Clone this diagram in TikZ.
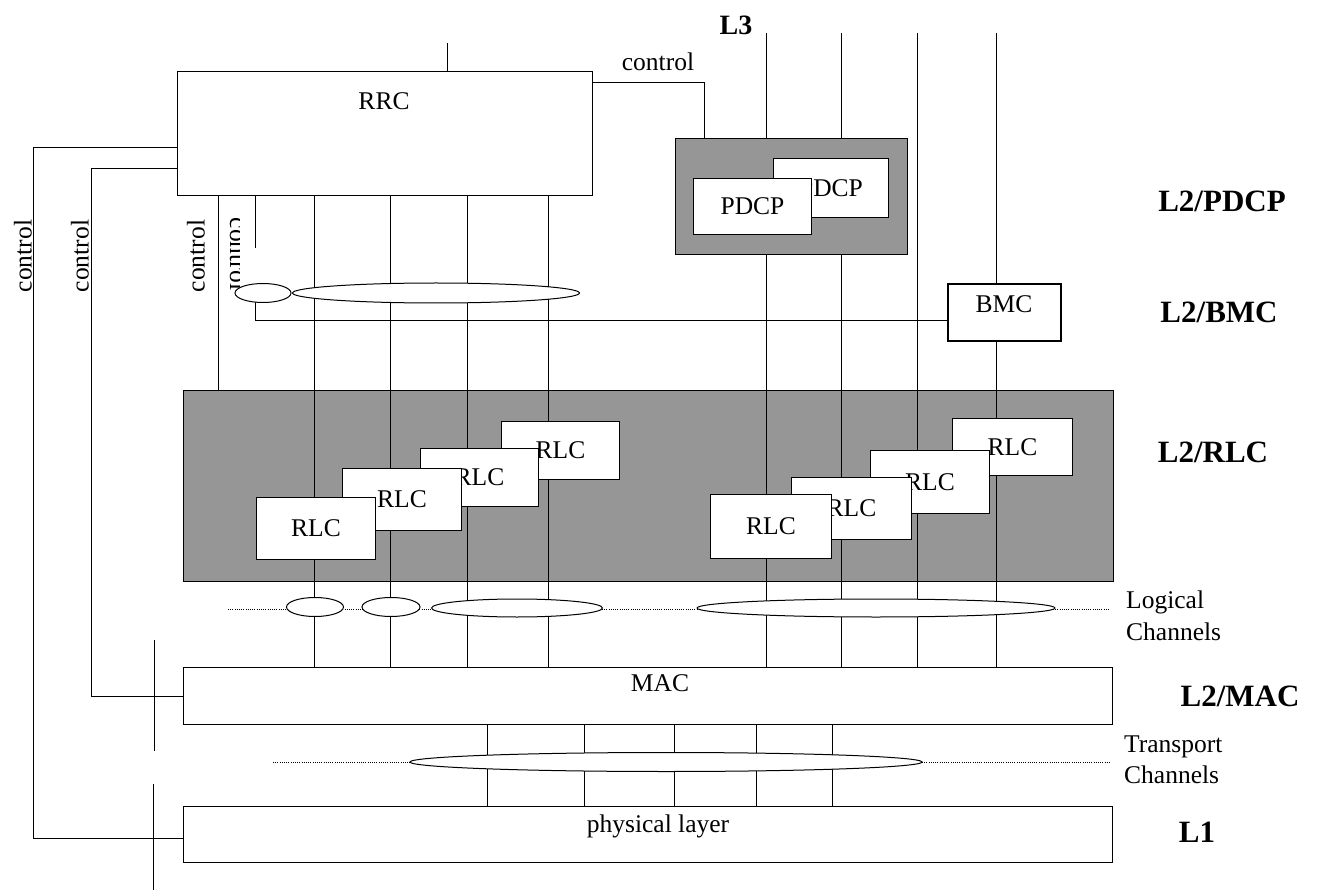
\documentclass[tikz,border=0pt]{standalone}
\usepackage{fontspec}
\setmainfont{Liberation Serif}
\usetikzlibrary{shapes.geometric}
\definecolor{grayfill}{RGB}{150,150,150}
\pgfdeclarelayer{bgzero}
\pgfdeclarelayer{bgone}
\pgfsetlayers{bgzero,bgone,main}
\begin{document}
\begin{tikzpicture}[x=1pt,y=-1pt,
  wire/.style={line width=0.9pt},
  dots/.style={line width=0.8pt, dash pattern=on 1pt off 1.2pt},
  box/.style={draw, line width=1pt, fill=white, inner sep=0pt, anchor=north west,
              font=\fontsize{25.5}{30}\selectfont},
  graybox/.style={draw, line width=1pt, fill=grayfill, inner sep=0pt, anchor=north west},
  txt/.style={font=\fontsize{25.5}{30}\selectfont, inner sep=0pt},
  lbl/.style={font=\fontsize{31}{36}\selectfont\bfseries, inner sep=0pt},
  chan/.style={draw, line width=1pt, fill=white, ellipse, inner sep=0pt},
]
\useasboundingbox (0,0) rectangle (1317,890);

% gray regions
\begin{pgfonlayer}{bgzero}
\node[graybox, minimum width=930pt, minimum height=191pt] (rlcarea) at (183,390) {};
\end{pgfonlayer}

% main boxes
\node[graybox, minimum width=232pt, minimum height=116pt] (pdcpbox) at (675,138) {};
\node[box, minimum width=115pt, minimum height=59pt] (pdcpb) at (773,158) {PDCP};
\node[box, minimum width=118pt, minimum height=56pt] (pdcpa) at (693,178) {PDCP};

\node[box, minimum width=415pt, minimum height=124pt] (rrc) at (177,71) {};
\node[txt] (rrct) at (384,101) {RRC};

\node[box, line width=2.2pt, minimum width=113pt, minimum height=57pt] (bmc) at (947,283) {};
\node[txt] (bmct) at (1004,304) {BMC};

% RLC entities, left group
\node[box, minimum width=118pt, minimum height=58pt] (rl4) at (501,421) {RLC};
\node[box, minimum width=118pt, minimum height=58pt] (rl3) at (420,448) {RLC};
\node[box, minimum width=119pt, minimum height=62pt] (rl2) at (342,468) {RLC};
\node[box, minimum width=119pt, minimum height=62pt] (rl1) at (256,497) {RLC};
% RLC entities, right group
\node[box, minimum width=120pt, minimum height=57pt] (rr4) at (952,418) {RLC};
\node[box, minimum width=119pt, minimum height=63pt] (rr3) at (870,450) {RLC};
\node[box, minimum width=120pt, minimum height=62pt] (rr2) at (791,477) {RLC};
\node[box, minimum width=121pt, minimum height=64pt] (rr1) at (710,494) {RLC};

\node[box, minimum width=929pt, minimum height=57pt] (mac) at (183,667) {};
\node[txt] (mact) at (660,683) {MAC};
\node[box, minimum width=929pt, minimum height=56pt] (phy) at (183,806) {};
\node[txt] (phyt) at (658,826) {physical layer};

% control labels
\node[txt, rotate=90] (c1) at (23,256) {control};
\node[txt, rotate=90] (c2) at (80,256) {control};
\node[txt, rotate=90] (c3) at (196,256) {control};
\begin{scope}
\clip (200,200) rectangle (239,300);
\node[txt, rotate=-90, anchor=base] (c4) at (230,254) {control};
\end{scope}
\node[txt] (ctop) at (658,62) {control};

% channel ellipses
\node[chan, minimum width=56pt, minimum height=19pt] (e0) at (263,293) {};
\node[chan, minimum width=287pt, minimum height=20pt] (e1) at (436,293) {};
\node[chan, minimum width=57pt, minimum height=19pt] (lc1) at (315,607) {};
\node[chan, minimum width=58pt, minimum height=19pt] (lc2) at (391,607) {};
\node[chan, minimum width=171pt, minimum height=18pt] (lc3) at (517,608) {};
\node[chan, minimum width=358pt, minimum height=18pt] (lc4) at (876,608) {};
\node[chan, minimum width=512pt, minimum height=19pt] (tc) at (666,762) {};

% layer labels
\node[lbl, font=\fontsize{28}{32}\selectfont\bfseries] (l3) at (736,25) {L3};
\node[lbl] (lpdcp) at (1222,201) {L2/PDCP};
\node[lbl] (lbmc) at (1219,312) {L2/BMC};
\node[lbl] (lrlc) at (1213,452) {L2/RLC};
\node[lbl] (lmac) at (1240,696) {L2/MAC};
\node[lbl] (lone) at (1197,832) {L1};
\node[txt, align=left, anchor=west, font=\fontsize{25.5}{32}\selectfont] (logch) at (1126,616) {Logical\\Channels};
\node[txt, align=left, anchor=west, font=\fontsize{25.5}{31}\selectfont] (trch) at (1124,760) {Transport\\Channels};

% named free ends
\coordinate (top0) at (447,43);
\coordinate (top1) at (766,33);
\coordinate (top2) at (841,33);
\coordinate (top3) at (917,33);
\coordinate (top4) at (996,33);
\coordinate (tickA) at (154,640);
\coordinate (tickB) at (154,751);
\coordinate (tickC) at (153,784);
\coordinate (tickD) at (153,890);
\coordinate (dotA) at (228,609);
\coordinate (dotB) at (1110,609);
\coordinate (dotC) at (273,762);
\coordinate (dotD) at (1110,762);

\begin{pgfonlayer}{bgone}
% lines from RRC through RLC to MAC
\foreach \x in {314,390,467,548}
  \draw[wire] (\x,0 |- rrc.south) -- (\x,0 |- mac.north);
% L3 lines
\draw[wire] (top0) -- (top0 |- rrc.north);
\foreach \t in {top1,top2} {
  \draw[wire] (\t) -- (\t |- pdcpbox.north);
  \draw[wire] (\t |- pdcpbox.south) -- (\t |- mac.north);
}
\draw[wire] (top3) -- (top3 |- mac.north);
\draw[wire] (top4) -- (top4 |- bmc.north);
\draw[wire] (top4 |- bmc.south) -- (top4 |- mac.north);
% transport channels
\foreach \x in {487,584,674,756,832}
  \draw[wire] (\x,0 |- mac.south) -- (\x,0 |- phy.north);
% control wires
\draw[wire] (rrc.east |- 0,82) -- (704,82) -- (704,0 |- pdcpbox.north);
\draw[wire] (rrc.west |- 0,147) -- (33,147) -- (33,838) -- (phy.west |- 0,838);
\draw[wire] (rrc.west |- 0,168) -- (91,168) -- (91,696) -- (mac.west |- 0,696);
\draw[wire] (218,0 |- rrc.south) -- (218,0 |- rlcarea.north);
\draw[wire] (255,0 |- rrc.south) -- (255,248);
\draw[wire] (255,0 |- e0.center) -- (255,320) -- (bmc.west |- 0,320);
% ticks
\draw[wire] (tickA) -- (tickB);
\draw[wire] (tickC) -- (tickD);
% dotted channel guides
\draw[dots] (dotA) -- (dotB);
\draw[dots] (dotC) -- (dotD);
\end{pgfonlayer}
\end{tikzpicture}
\end{document}
